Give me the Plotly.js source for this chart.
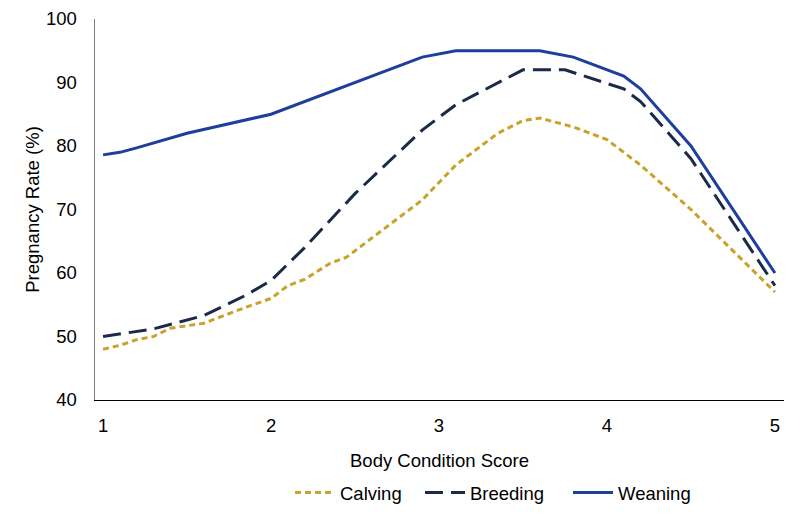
<!DOCTYPE html>
<html>
<head>
<meta charset="utf-8">
<script src="https://cdn.plot.ly/plotly-3.0.1.min.js"></script>
<style>
  html, body { margin: 0; padding: 0; background: #fff; }
  #plot { width: 800px; height: 519px; }
</style>
</head>
<body>
<div id="plot"></div>
<script>
// values
var calvingX = [1, 1.1, 1.2, 1.3, 1.4, 1.6, 1.85, 2, 2.1, 2.2, 2.35, 2.45, 2.65, 2.9, 3.1, 3.35, 3.5, 3.6, 3.8, 4, 4.2, 4.5, 5];
var calvingY = [48, 48.6, 49.5, 50, 51.3, 52.1, 54.6, 56, 58, 59, 61.5, 62.5, 66.5, 71.5, 77, 82, 84, 84.4, 83, 81, 77, 70, 57];

var breedingX = [1, 1.3, 1.6, 1.85, 2, 2.2, 2.5, 2.9, 3.1, 3.5, 3.75, 4.1, 4.2, 4.5, 5];
var breedingY = [50, 51.2, 53.3, 56.5, 58.8, 64, 72.5, 82.5, 86.5, 92, 92, 89, 87, 78, 58];

var weaningX = [1, 1.1, 1.2, 1.5, 2, 2.5, 2.9, 3.1, 3.6, 3.8, 4.1, 4.2, 4.5, 5];
var weaningY = [78.6, 79, 79.7, 82, 85, 90, 94, 95, 95, 94, 91, 89, 80, 60];

var xTicks = [1, 2, 3, 4, 5];
var yTicks = [40, 50, 60, 70, 80, 90, 100];

var calving = {
  x: calvingX, y: calvingY, name: "Calving", type: "scatter", mode: "lines",
  line: {color: "#c9a22a", width: 3, dash: "6px,4px"}, legend: "legend"
};
var breeding = {
  x: breedingX, y: breedingY, name: "Breeding", type: "scatter", mode: "lines",
  line: {color: "#1b2a47", width: 3, dash: "18px,8px"}, legend: "legend2"
};
var weaning = {
  x: weaningX, y: weaningY, name: "Weaning", type: "scatter", mode: "lines",
  line: {color: "#1d3e9c", width: 3}, legend: "legend3"
};

// one legend box per entry so the spacing can follow the reference
function legendAt(x) {
  return {
    orientation: "h", xref: "container", yref: "container",
    x: x, xanchor: "left", y: 0.05, yanchor: "middle",
    font: {size: 18.5}, itemwidth: 40
  };
}

var layout = {
  width: 800, height: 519,
  margin: {l: 95, r: 16, t: 19, b: 119},
  paper_bgcolor: "#fff", plot_bgcolor: "#fff",
  font: {family: "Liberation Sans, Arial, sans-serif", size: 18.5, color: "#000"},
  showlegend: true,
  legend: legendAt(0.3625),
  legend2: legendAt(0.525),
  legend3: legendAt(0.71),
  xaxis: {
    range: [0.952, 5.054], tickvals: xTicks, ticks: "", showgrid: false, zeroline: false,
    showline: true, linecolor: "#000", linewidth: 1, automargin: false, ticklabelstandoff: 9,
    title: {text: "Body Condition Score", font: {size: 18.5}, standoff: 18}
  },
  yaxis: {
    range: [40, 100], tickvals: yTicks, ticks: "", showgrid: false, zeroline: false,
    showline: true, linecolor: "#808080", linewidth: 1.5, ticklabelstandoff: 13, automargin: false,
    title: {text: "Pregnancy Rate (%)", font: {size: 18.5}, standoff: 1}
  }
};

Plotly.newPlot("plot", [calving, breeding, weaning], layout, {displayModeBar: false, staticPlot: true});
</script>
</body>
</html>
